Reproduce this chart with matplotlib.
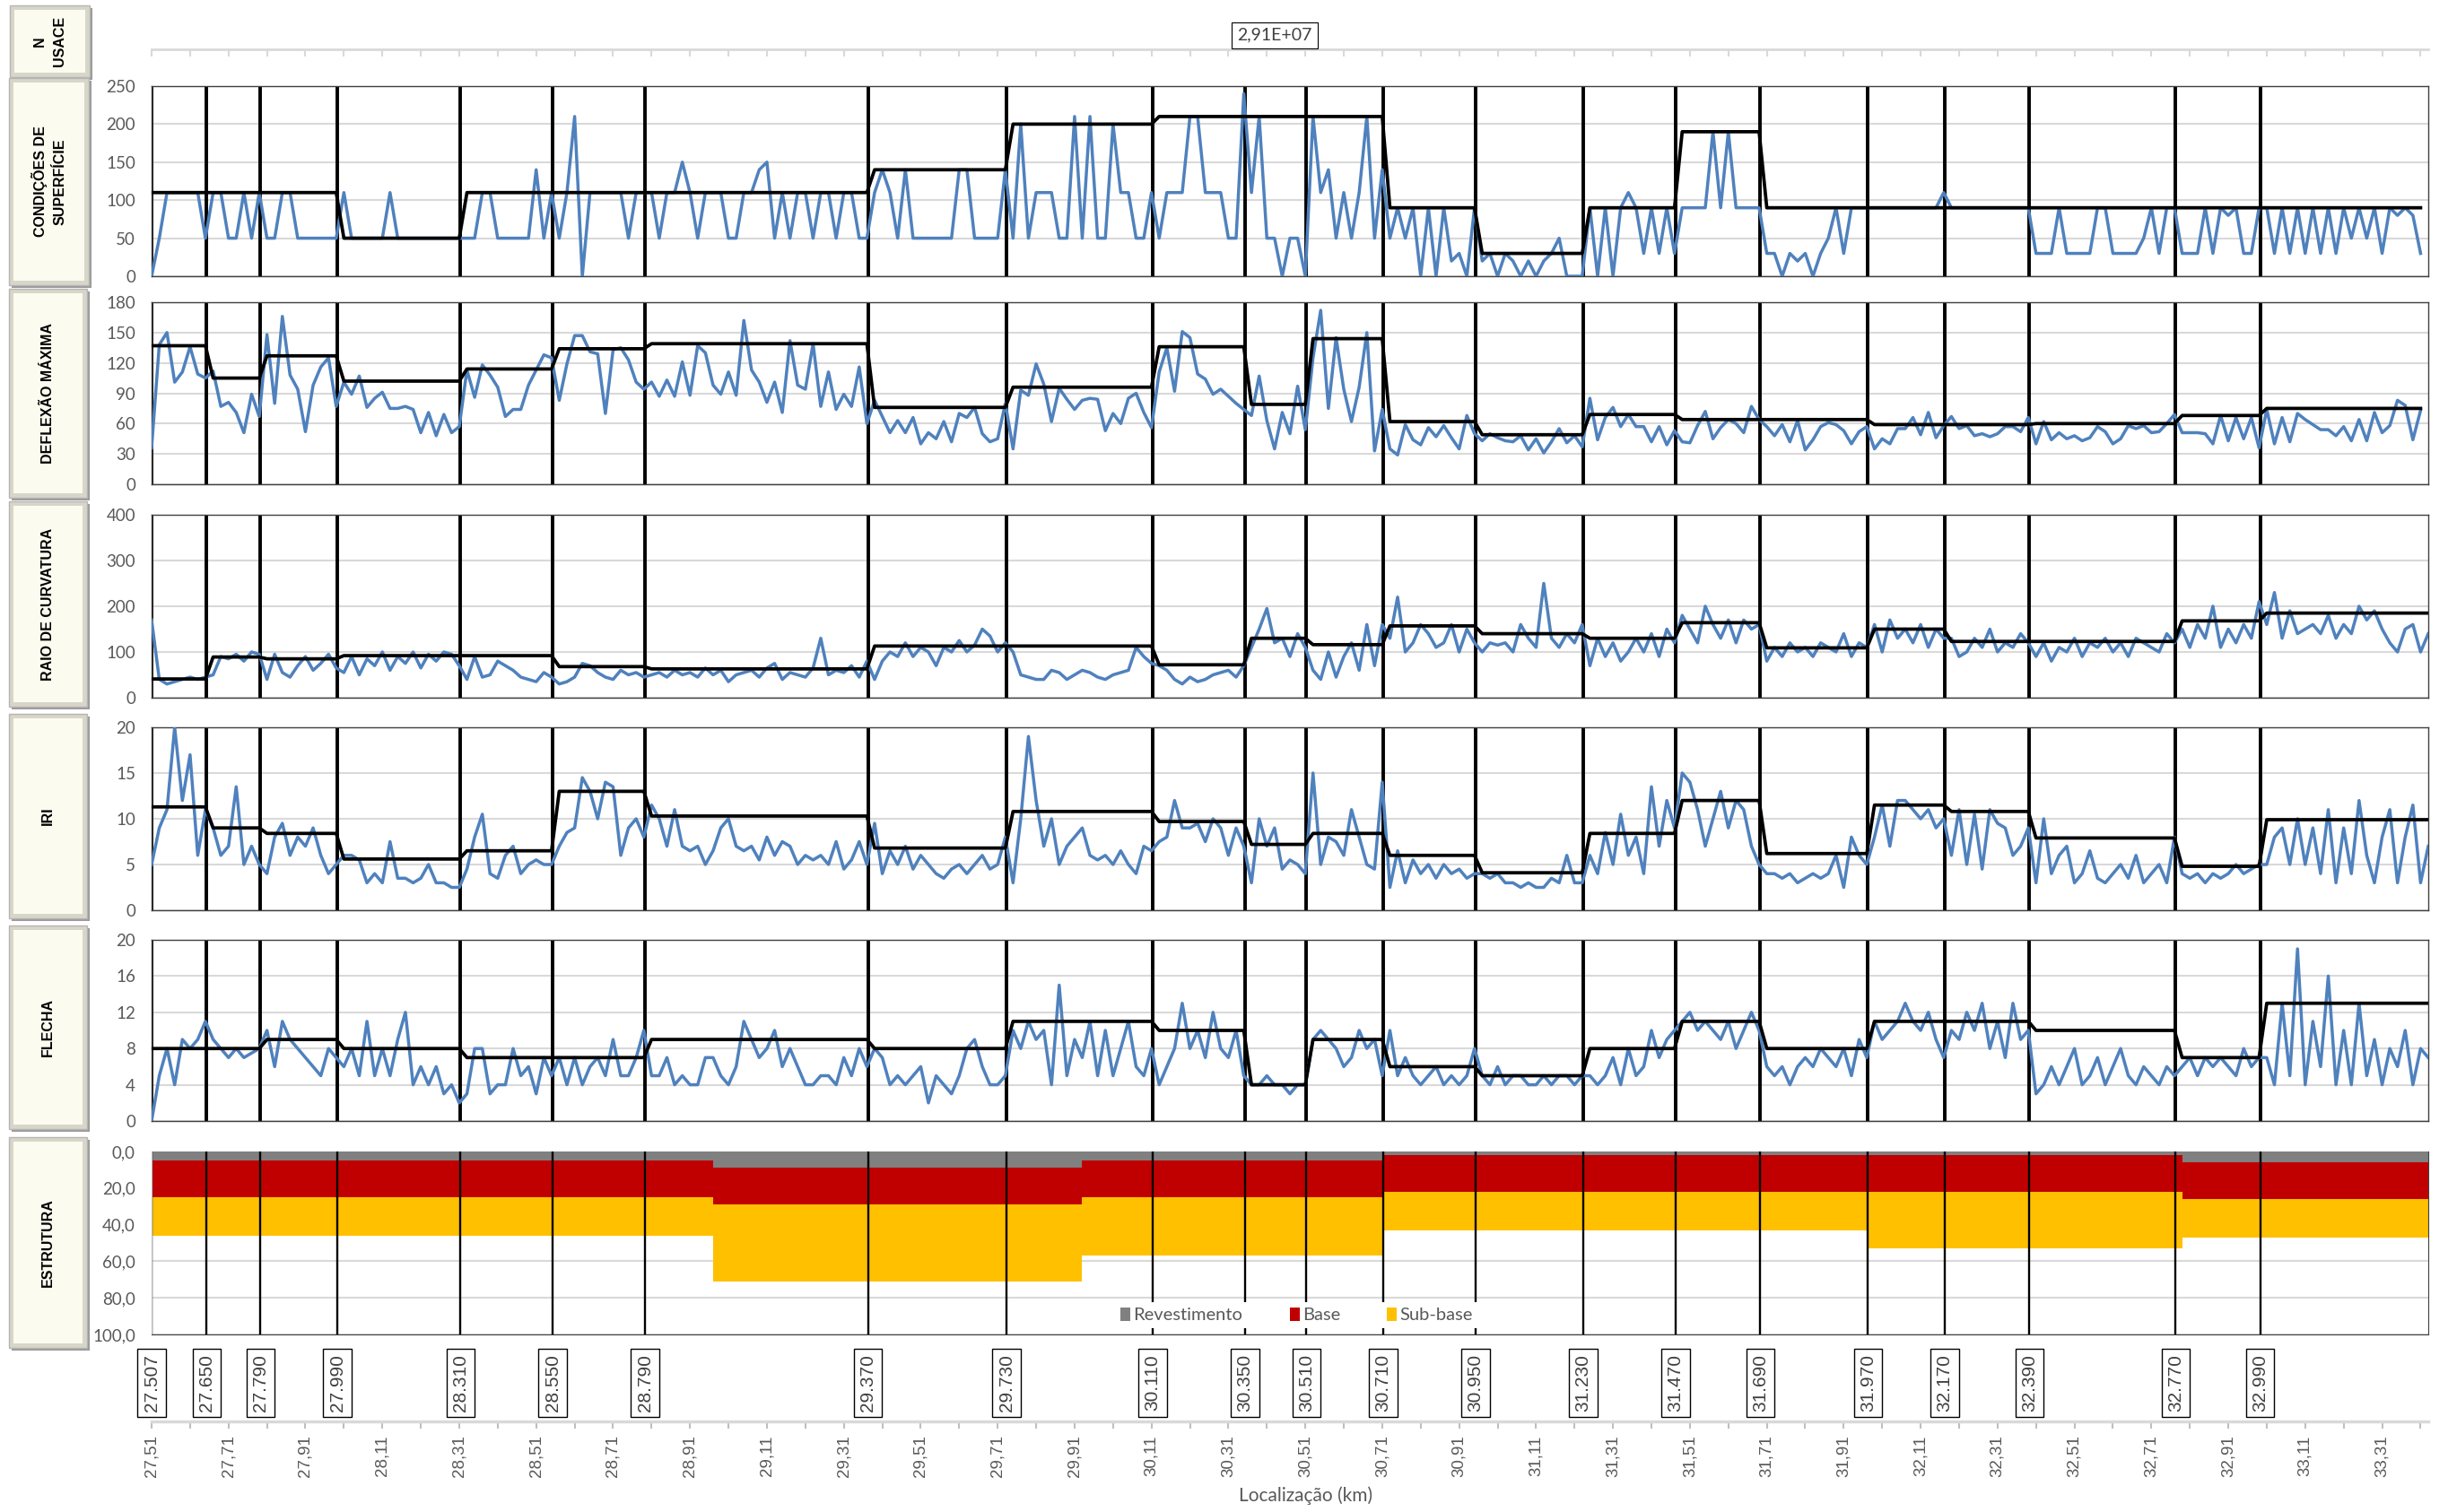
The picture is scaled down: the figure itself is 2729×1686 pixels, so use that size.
import numpy as np
import matplotlib
matplotlib.use("Agg")
import matplotlib.pyplot as plt
from matplotlib.patches import Rectangle, Patch
from matplotlib.transforms import blended_transform_factory

# ---------------- data ----------------
km_start = 27.507
km_step = 0.02
km_end = 33.427

boundaries = [27.507, 27.650, 27.790, 27.990, 28.310, 28.550, 28.790, 29.370, 29.730,
              30.110, 30.350, 30.510, 30.710, 30.950, 31.230, 31.470, 31.690, 31.970,
              32.170, 32.390, 32.770, 32.990]
boundary_labels = ["27.507", "27.650", "27.790", "27.990", "28.310", "28.550", "28.790",
                   "29.370", "29.730", "30.110", "30.350", "30.510", "30.710", "30.950",
                   "31.230", "31.470", "31.690", "31.970", "32.170", "32.390", "32.770",
                   "32.990"]

xtick_labels = ["27,51", "27,71", "27,91", "28,11", "28,31", "28,51", "28,71", "28,91",
                "29,11", "29,31", "29,51", "29,71", "29,91", "30,11", "30,31", "30,51",
                "30,71", "30,91", "31,11", "31,31", "31,51", "31,71", "31,91", "32,11",
                "32,31", "32,51", "32,71", "32,91", "33,11", "33,31"]

usace_label = "2,91E+07"
usace_label_km = 30.427

# Condições de superfície
cond_vals = [0, 50, 110, 110, 110, 110, 110, 50, 110, 110,
             50, 50, 110, 50, 110, 50, 50, 110, 110, 50,
             50, 50, 50, 50, 50, 110, 50, 50, 50, 50,
             50, 110, 50, 50, 50, 50, 50, 50, 50, 50,
             50, 50, 50, 110, 110, 50, 50, 50, 50, 50,
             140, 50, 110, 50, 110, 210, 0, 110, 110, 110,
             110, 110, 50, 110, 110, 110, 50, 110, 110, 150,
             110, 50, 110, 110, 110, 50, 50, 110, 110, 140,
             150, 50, 110, 50, 110, 110, 50, 110, 110, 50,
             110, 110, 50, 50, 110, 140, 110, 50, 140,
             50, 50, 50, 50, 50, 50,
             140, 140, 50, 50, 50, 50,
             140, 50, 200, 50, 110, 110, 110, 50, 50, 210,
             50, 210, 50, 50, 200, 110, 110, 50, 50, 110,
             50, 110, 110, 110, 210, 210, 110, 110, 110, 50,
             50, 240, 110, 210, 50, 50, 0, 50, 50, 0,
             210, 110, 140, 50, 110, 50, 110, 210, 50, 140,
             50, 90, 50, 90, 0, 90, 0, 90, 20, 30,
             0, 90, 20, 30, 0, 30, 20, 0, 20, 0,
             20, 30, 50, 0, 0, 0, 90, 0, 90, 0,
             90, 110, 90, 30, 90, 30,
             90, 30, 90, 90, 90, 90, 190, 90, 190, 90,
             90, 90, 90, 30, 30, 0, 30, 20, 30, 0,
             30, 50, 90, 30, 90, 90, 90, 90, 90, 90,
             90, 90, 90, 90, 90, 90, 110, 90, 90, 90,
             90, 90, 90, 90, 90, 90, 90, 90, 30, 30,
             30, 90, 30, 30, 30, 30, 90, 90, 30, 30,
             30, 30, 50, 90, 30, 90, 90, 30, 30, 30,
             90, 30, 90, 80, 90, 30, 30, 90, 90, 30,
             90, 30, 90, 30, 90, 30, 90, 30, 90, 50,
             90, 50, 90, 30, 90, 80, 90, 80, 30]
cond_seg = [110, 110, 110, 50, 110, 110, 110, 140, 200, 210, 210, 210,
            90, 30, 90, 190, 90, 90, 90, 90, 90, 90]

# Deflexão máxima
defl_vals = [36, 138, 150, 101, 111, 136, 109, 105, 112, 77,
             81, 71, 51, 89, 67, 148, 80, 166, 108, 94,
             52, 98, 116, 125, 77, 101, 89, 107, 76, 85,
             91, 75, 75, 77, 74, 51, 71, 48, 69, 51,
             57, 113, 86, 118, 108, 96, 67, 74, 74, 98,
             113, 128, 125, 83, 119, 147, 147, 131, 129, 70,
             133, 135, 123, 101, 94, 101, 87, 103, 87, 121,
             88, 137, 130, 98, 89, 111, 88, 162, 113, 101,
             81, 101, 71, 142, 98, 94, 139, 77, 111, 74,
             89, 77, 116, 60, 83, 67, 51, 63, 51,
             66, 40, 51, 45, 62, 42, 70, 66, 76, 50,
             42, 45, 80, 35, 93, 88, 119, 99, 62, 95,
             84, 74, 83, 85, 84, 53, 70, 60, 85, 90,
             71, 56, 111, 135, 92, 151, 145, 109, 104, 89,
             94, 87, 80, 74, 68, 107, 63, 35, 71, 50,
             97, 54, 125, 172, 75, 145, 94, 62, 96, 150,
             33, 74, 35, 29, 59, 44, 39, 56, 47, 58,
             46, 35, 68, 50, 43, 50, 46, 43, 42, 48,
             34, 45, 31, 42, 55, 41, 48, 37, 85, 44,
             66, 76, 57, 69, 57, 57, 42, 57, 39,
             53, 42, 41, 58, 72, 45, 56, 64, 60,
             51, 77, 64, 57, 48, 59, 42, 63, 34, 44,
             57, 61, 59, 53, 40, 52, 57, 35, 45, 40,
             55, 55, 66, 49, 71, 46, 58, 67, 55, 58,
             48, 50, 47, 50, 57, 57, 52, 66, 40, 62,
             44, 51, 45, 48, 43, 46, 57, 52, 40, 45,
             58, 55, 58, 51, 52, 60, 69, 51, 51, 51,
             50, 40, 68, 43, 66, 45, 66, 36, 74, 40,
             66, 42, 70, 64, 59, 54, 54, 48, 57, 43,
             64, 43, 71, 51, 58, 83, 78, 44, 73]
defl_seg = [137, 105, 127, 102, 114, 134, 139, 76, 96, 136, 79, 144,
            62, 49, 69, 64, 64, 59, 59, 60, 68, 75]

# Raio de curvatura
raio_vals = [170, 40, 30, 35, 40, 45, 40, 45,
             50, 90, 85, 95, 80, 100, 95,
             40, 95, 55, 45, 70, 90, 60, 75, 95, 65,
             55, 90, 50, 85, 70, 100, 60, 90, 75, 100, 65, 95, 80, 100, 95, 70,
             40, 90, 45, 50, 80, 70, 60, 45, 40, 35, 55, 45,
             30, 35, 45, 75, 70, 55, 45, 40, 60, 50, 55, 45,
             50, 55, 45, 60, 50, 55, 45, 65, 50, 60, 35, 50, 55, 60, 45,
             65, 75, 40, 55, 50, 45, 65, 130, 50, 60, 55, 70, 45, 80,
             40, 80, 100, 90, 120, 90, 110, 100, 70, 110, 100, 125, 100, 115, 150, 135, 100, 120,
             100, 50, 45, 40, 40, 60, 55, 40, 50, 60, 55, 45, 40, 50, 55, 60, 110, 90, 75,
             70, 60, 40, 30, 45, 35, 40, 50, 55, 60, 45, 70,
             110, 150, 195, 120, 130, 90, 140, 110,
             60, 40, 100, 45, 90, 120, 60, 160, 70, 160,
             130, 220, 100, 120, 160, 140, 110, 120, 160, 100, 150, 120,
             100, 120, 115, 120, 100, 160, 130, 110, 250, 130, 110, 140, 120, 160,
             70, 130, 90, 120, 80, 100, 130, 100, 140, 90, 150, 120,
             180, 150, 120, 200, 160, 130, 170, 120, 170, 150, 160,
             80, 110, 90, 120, 100, 110, 90, 120, 110, 100, 140, 90, 120, 110,
             160, 100, 170, 130, 150, 120, 160, 110, 150, 130,
             130, 90, 100, 130, 110, 150, 100, 120, 110, 140, 120,
             90, 120, 80, 110, 100, 130, 90, 120, 110, 130, 100, 120, 90, 130, 120, 110, 100, 140, 120,
             150, 110, 160, 130, 200, 110, 150, 120, 160, 130, 210,
             160, 230, 130, 190, 140, 150, 160, 140, 180, 130, 160, 140, 200, 170, 190, 150,
             120, 100, 150, 160, 100, 140]
raio_seg = [41, 89, 85, 92, 92, 68, 63, 113, 113, 72, 130, 116,
            157, 140, 130, 164, 109, 150, 123, 123, 168, 185]

# IRI
iri_vals = [5, 9, 11, 20, 12, 17, 6, 11,
            9, 6, 7, 13.5, 5, 7, 5,
            4, 8, 9.5, 6, 8, 7, 9, 6, 4, 5,
            6, 6, 5.5, 3, 4, 3, 7.5, 3.5, 3.5, 3, 3.5, 5, 3, 3, 2.5, 2.5,
            4.5, 8, 10.5, 4, 3.5, 6, 7, 4, 5, 5.5, 5, 5,
            7, 8.5, 9, 14.5, 13, 10, 14, 13.5, 6, 9, 10, 8,
            11.5, 10, 7, 11, 7, 6.5, 7, 5, 6.5, 9, 10, 7, 6.5, 7, 5.5,
            8, 6, 7.5, 7, 5, 6, 5.5, 6, 5, 7.5, 4.5, 5.5, 7.5, 5,
            9.5, 4, 6.5, 5, 7, 4.5, 6, 5, 4, 3.5, 4.5, 5, 4, 5, 6, 4.5, 5, 8,
            3, 10, 19, 12, 7, 10, 5, 7, 8, 9, 6, 5.5, 6, 5, 6.5, 5, 4, 7, 6.5,
            7.5, 8, 12, 9, 9, 9.5, 7.5, 10, 9, 6, 9, 7,
            3, 10, 7, 9, 4.5, 5.5, 5, 4,
            15, 5, 8, 7.5, 6, 11, 8, 5, 4.5, 14,
            2.5, 6.5, 3, 5.5, 4, 5, 3.5, 5, 4, 4.5, 3.5, 4,
            4, 3.5, 4, 3, 3, 2.5, 3, 2.5, 2.5, 3.5, 3, 6, 3, 3,
            6, 4, 8.5, 5, 10.5, 6, 8, 4, 13.5, 7, 12, 9,
            15, 14, 11, 7, 10, 13, 9, 12, 11, 7, 5,
            4, 4, 3.5, 4, 3, 3.5, 4, 3.5, 4, 6, 2.5, 8, 6, 5,
            8, 11.5, 7, 12, 12, 11, 10, 11, 9, 10,
            6, 11, 5, 10.5, 4.5, 11, 9.5, 9, 6, 7, 9,
            3, 10, 4, 6, 7, 3, 4, 6.5, 3.5, 3, 4, 5, 3.5, 6, 3, 4, 5, 3, 8,
            4, 3.5, 4, 3, 4, 3.5, 4, 5, 4, 4.5, 5,
            5, 8, 9, 5, 10, 5, 9, 4, 11, 3, 9, 4, 12, 6, 3, 8, 11, 3, 8, 11.5, 3, 7]
iri_seg = [11.3, 9, 8.4, 5.6, 6.5, 13, 10.3, 6.8, 10.8, 9.7, 7.2, 8.4,
           6, 4.1, 8.4, 12, 6.2, 11.5, 10.8, 7.9, 4.8, 9.9]

# Flecha
flecha_vals = [0, 5, 8, 4, 9, 8, 9, 11,
               9, 8, 7, 8, 7, 7.5, 8,
               10, 6, 11, 9, 8, 7, 6, 5, 8, 7,
               6, 8, 5, 11, 5, 8, 5, 9, 12, 4, 6, 4, 6, 3, 4, 2,
               3, 8, 8, 3, 4, 4, 8, 5, 6, 3, 7, 5,
               7, 4, 7, 4, 6, 7, 5, 9, 5, 5, 7, 10,
               5, 5, 7, 4, 5, 4, 4, 7, 7, 5, 4, 6, 11, 9, 7,
               8, 10, 6, 8, 6, 4, 4, 5, 5, 4, 7, 5, 8, 6,
               8, 7, 4, 5, 4, 5, 6, 2, 5, 4, 3, 5, 8, 9, 6, 4, 4, 5,
               10, 8, 11, 9, 10, 4, 15, 5, 9, 7, 11, 5, 10, 5, 8, 11, 6, 5, 8,
               4, 6, 8, 13, 8, 10, 7, 12, 8, 7, 10, 5,
               4, 4, 5, 4, 4, 3, 4, 4,
               9, 10, 9, 8, 6, 7, 10, 8, 9, 5,
               10, 5, 7, 5, 4, 5, 6, 4, 5, 4, 5, 8,
               5, 4, 6, 4, 5, 5, 4, 4, 5, 4, 5, 5, 4, 5,
               5, 4, 5, 7, 4, 8, 5, 6, 10, 7, 9, 10,
               11, 12, 10, 11, 10, 9, 11, 8, 10, 12, 10,
               6, 5, 6, 4, 6, 7, 6, 8, 7, 6, 8, 5, 9, 7,
               11, 9, 10, 11, 13, 11, 10, 12, 9, 7,
               10, 9, 12, 10, 13, 8, 11, 7, 13, 9, 10,
               3, 4, 6, 4, 6, 8, 4, 5, 7, 4, 6, 8, 5, 4, 6, 5, 4, 6, 5,
               6, 7, 5, 7, 6, 7, 6, 5, 8, 6, 7,
               7, 4, 13, 5, 19, 4, 11, 6, 16, 4, 10, 4, 13, 5, 9, 4, 8, 6, 10, 4, 8, 7]
flecha_seg = [8, 8, 9, 8, 7, 7, 9, 8, 11, 10, 4, 9,
              6, 5, 8, 11, 8, 11, 11, 10, 7, 13]

# Estrutura (thickness per structural segment, cm)
struct_starts = [27.507, 28.967, 29.927, 30.707, 31.967, 32.787]
rev_thk = [5, 9, 5, 2, 2, 6]
base_thk = [20, 20, 20, 20, 20, 20]
sub_thk = [21, 42, 32, 21, 31, 21]

panel_titles = ["N\nUSACE", "CONDIÇÕES DE\nSUPERFÍCIE", "DEFLEXÃO MÁXIMA",
                "RAIO DE CURVATURA", "IRI", "FLECHA", "ESTRUTURA"]

# ---------------- layout ----------------
W, H = 2729, 1686
fig = plt.figure(figsize=(W / 100, H / 100), dpi=100)
NARROW = ["Lato", "DejaVu Sans"]
SANS = ["Liberation Sans", "DejaVu Sans"]
GRAY_TXT = "#595959"
BLUE = "#4F81BD"
GRID = "#D9D9D9"

L, R = 169, 2707


def add_ax(top, bottom, left=L, right=R, **kw):
    return fig.add_axes([left / W, 1 - bottom / H, (right - left) / W, (bottom - top) / H], **kw)


ov = fig.add_axes([0, 0, 1, 1], zorder=0)
ov.set_xlim(0, W)
ov.set_ylim(H, 0)
ov.axis("off")

# left buttons
buttons = [(11, 6, 100, 86), (10, 87, 99, 318), (10, 322, 97, 555), (10, 559, 97, 788),
           (10, 796, 97, 1024), (10, 1032, 97, 1259), (10, 1268, 97, 1503)]
for (x0, y0, x1, y1), t in zip(buttons, panel_titles):
    ov.add_patch(Rectangle((x0 + 3, y0 + 3), x1 - x0, y1 - y0, facecolor="#9A9A9A",
                           edgecolor="none", zorder=1))
    ov.add_patch(Rectangle((x0, y0), x1 - x0, y1 - y0, facecolor="#D8D6C8",
                           edgecolor="#B5B5B5", lw=1.0, zorder=2))
    ov.add_patch(Rectangle((x0 + 5, y0 + 5), x1 - x0 - 10, y1 - y0 - 10,
                           facecolor="#FCFBEF", edgecolor="none", zorder=3))
    ov.text((x0 + x1) / 2, (y0 + y1) / 2, t, rotation=90, ha="center", va="center",
            fontsize=11.5, fontweight="bold", family=SANS, color="black",
            linespacing=1.55, zorder=4)

# N USACE strip
ax0 = add_ax(20, 55)
ax0.set_xlim(km_start, km_end)
ax0.set_ylim(0, 1)
for s in ["top", "left", "right"]:
    ax0.spines[s].set_visible(False)
ax0.spines["bottom"].set_color(GRID)
ax0.spines["bottom"].set_linewidth(2)
ax0.set_yticks([])
ax0.set_xticks(km_start + 0.1 * np.arange(60))
ax0.tick_params(axis="x", length=6, width=1.5, color=GRID, labelbottom=False)
ax0.patch.set_alpha(0)
ax0.text(usace_label_km, 0.45, usace_label, ha="center", va="center", fontsize=14,
         family=NARROW, color="#404040", zorder=5,
         bbox=dict(boxstyle="square,pad=0.32", facecolor="white", edgecolor="black", lw=0.8))

panel_specs = [
    (96, 308, cond_vals, cond_seg, 250, np.arange(0, 251, 50)),
    (337, 540, defl_vals, defl_seg, 180, np.arange(0, 181, 30)),
    (574, 778, raio_vals, raio_seg, 400, np.arange(0, 401, 100)),
    (811, 1015, iri_vals, iri_seg, 20, np.arange(0, 21, 5)),
    (1048, 1250, flecha_vals, flecha_seg, 20, np.arange(0, 21, 4)),
]

bnd = np.array(boundaries)
for top, bottom, vals, seg, ymax, yt in panel_specs:
    ax = add_ax(top, bottom)
    xk = km_start + km_step * np.arange(len(vals))
    idx = np.searchsorted(bnd, xk + 1e-9, side="right") - 1
    seg_line = np.array(seg)[idx]
    for b in boundaries:
        ax.axvline(b, color="black", lw=2.8, zorder=2)
    ax.plot(xk, vals, color=BLUE, lw=2.5, zorder=3)
    ax.plot(xk, seg_line, color="black", lw=2.7, zorder=4)
    ax.set_xlim(km_start, km_end)
    ax.set_ylim(0, ymax)
    ax.set_yticks(yt)
    ax.set_xticks([])
    ax.grid(axis="y", color=GRID, lw=1.5, zorder=0)
    ax.set_axisbelow(True)
    ax.tick_params(axis="y", length=0, pad=13, labelsize=13.5, labelcolor=GRAY_TXT)
    for lab in ax.get_yticklabels():
        lab.set_family(NARROW)
    for s in ax.spines.values():
        s.set_color("#404040")
        s.set_linewidth(1.0)

# Estrutura
ax6 = add_ax(1284, 1488)
xs = list(struct_starts) + [km_end]
rev = np.array(rev_thk + [rev_thk[-1]], float)
base = rev + np.array(base_thk + [base_thk[-1]], float)
sub = base + np.array(sub_thk + [sub_thk[-1]], float)
ax6.fill_between(xs, 0, rev, step="post", color="#808080", lw=0, zorder=1)
ax6.fill_between(xs, rev, base, step="post", color="#C00000", lw=0, zorder=1)
ax6.fill_between(xs, base, sub, step="post", color="#FFC000", lw=0, zorder=1)
for b in boundaries:
    ax6.axvline(b, color="black", lw=1.7, zorder=2)
ax6.set_xlim(km_start, km_end)
ax6.set_ylim(100, 0)
ax6.set_yticks(np.arange(0, 101, 20))
ax6.set_yticklabels([f"{v:.1f}".replace(".", ",") for v in np.arange(0, 101, 20)])
ax6.set_xticks([])
ax6.grid(axis="y", color=GRID, lw=1.5, zorder=0)
ax6.set_axisbelow(True)
ax6.tick_params(axis="y", length=0, pad=13, labelsize=13.5, labelcolor=GRAY_TXT)
for lab in ax6.get_yticklabels():
    lab.set_family(NARROW)
ax6.spines["top"].set_visible(False)
ax6.spines["left"].set_color("#BFBFBF")
ax6.spines["bottom"].set_color("#404040")
ax6.spines["right"].set_color("#404040")
handles = [Patch(facecolor="#808080", label="Revestimento"),
           Patch(facecolor="#C00000", label="Base"),
           Patch(facecolor="#FFC000", label="Sub-base")]
leg = ax6.legend(handles=handles, loc="center", bbox_to_anchor=(0.503, 0.105), ncol=3,
                 frameon=True, facecolor="white", edgecolor="none", framealpha=1,
                 fancybox=False, handlelength=0.55, handleheight=0.8, handletextpad=0.15,
                 columnspacing=2.6, borderpad=0.3,
                 prop={"family": NARROW, "size": 14.5})
for t in leg.get_texts():
    t.set_color(GRAY_TXT)
leg.set_zorder(5)

# boundary label boxes
trb = blended_transform_factory(ax6.transData, ov.transData)
for b, t in zip(boundaries, boundary_labels):
    ov.text(b, 1542, t, transform=trb, rotation=90, ha="center", va="center",
            fontsize=15, family=SANS, color="#404040",
            bbox=dict(boxstyle="square,pad=0.3", facecolor="white", edgecolor="black", lw=1.0))

# bottom km axis
axx = add_ax(1570, 1585)
axx.set_xlim(km_start, km_end)
axx.set_ylim(0, 1)
axx.patch.set_alpha(0)
for s in ["top", "left", "right"]:
    axx.spines[s].set_visible(False)
axx.spines["bottom"].set_color(GRID)
axx.spines["bottom"].set_linewidth(2.5)
axx.set_yticks([])
axx.set_xticks(km_start + 0.2 * np.arange(len(xtick_labels)))
axx.set_xticklabels(xtick_labels, rotation=90, family=SANS, fontsize=13.5, color=GRAY_TXT)
axx.set_xticks(km_start + 0.1 * np.arange(60), minor=True)
axx.tick_params(axis="x", which="both", length=6, width=1.5, color="#BFBFBF", pad=5)

# axis title placed in figure pixel space below the tick labels
trx = blended_transform_factory(axx.transAxes, ov.transData)
ov.text(0.507, 1668, "Localização (km)", transform=trx, ha="center", va="center",
        family=NARROW, fontsize=15, color=GRAY_TXT)

fig.savefig("out.png", dpi=100)
